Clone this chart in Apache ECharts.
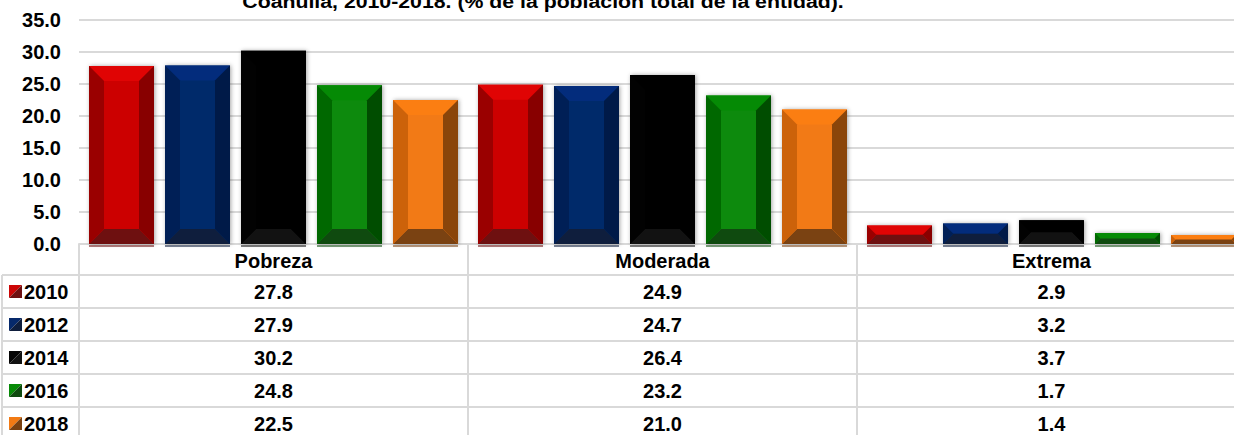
<!DOCTYPE html>
<html>
<head>
<meta charset="utf-8">
<script src="https://cdn.jsdelivr.net/npm/echarts@6/dist/echarts.min.js"></script>
<style>
html,body{margin:0;padding:0;background:#fff;}
#chart{width:1234px;height:435px;}
</style>
</head>
<body>
<div id="chart"></div>
<script>
//-------------------数据--------------
var categories = ['Pobreza', 'Moderada', 'Extrema'];
var years = ['2010', '2012', '2014', '2016', '2018'];
var v2010 = [27.8, 24.9, 2.9];
var v2012 = [27.9, 24.7, 3.2];
var v2014 = [30.2, 26.4, 3.7];
var v2016 = [24.8, 23.2, 1.7];
var v2018 = [22.5, 21.0, 1.4];
var yTicks = [0, 5, 10, 15, 20, 25, 30, 35];
var titleText = 'Coahuila, 2010-2018. (% de la población total de la entidad).';

//-------------------样式--------------
var FONT = '"Liberation Sans", Arial, sans-serif';
var FS = 20;
var LINE = '#d9d9d9';
// top, center, left, right, bottom
var bevel = [
  ['#e00404', '#cc0606', '#9a0000', '#880000', '#6e1010'],
  ['#032c7c', '#06296b', '#001f56', '#001a48', '#0f1e3d'],
  ['#000000', '#050505', '#020202', '#000000', '#121212'],
  ['#058a05', '#078a07', '#006800', '#004d00', '#0f4a0f'],
  ['#fb7e12', '#f27a14', '#cc620a', '#8a450a', '#7a4212']
];
var values = [v2010, v2012, v2014, v2016, v2018];

//-------------------处理逻辑------------------
function bevelRender(si) {
  return function (params, api) {
    var ci = api.value(0), val = api.value(1);
    var base = api.coord([ci, 0]), top = api.coord([ci, val]);
    var band = api.size([1, 0])[0];
    var bw = band * 65 / 389, gap = band * 11 / 389;
    var total = 5 * bw + 4 * gap;
    var x0 = base[0] - total / 2 + si * (bw + gap), x1 = x0 + bw;
    var y0 = top[1], y1 = base[1];
    var b = Math.min(15, (y1 - y0) / 2, bw / 2);
    var c = bevel[si];
    return {
      type: 'group',
      children: [
        {type: 'rect', shape: {x: x0, y: y0, width: bw, height: y1 - y0},
          style: {fill: c[1], shadowBlur: 4, shadowColor: 'rgba(0,0,0,0.35)', shadowOffsetX: 1, shadowOffsetY: 0}},
        {type: 'rect', shape: {x: x0, y: y1 + 1, width: bw, height: 2}, style: {fill: c[4], opacity: 0.55}},
        {type: 'polygon', shape: {points: [[x0, y0], [x1, y0], [x1 - b, y0 + b], [x0 + b, y0 + b]]}, style: {fill: c[0]}},
        {type: 'polygon', shape: {points: [[x0, y1], [x0 + b, y1 - b], [x1 - b, y1 - b], [x1, y1]]}, style: {fill: c[4]}},
        {type: 'polygon', shape: {points: [[x0, y0], [x0 + b, y0 + b], [x0 + b, y1 - b], [x0, y1]]}, style: {fill: c[2]}},
        {type: 'polygon', shape: {points: [[x1, y0], [x1, y1], [x1 - b, y1 - b], [x1 - b, y0 + b]]}, style: {fill: c[3]}}
      ]
    };
  };
}

var series = years.map(function (y, si) {
  return {
    name: y,
    type: 'custom',
    renderItem: bevelRender(si),
    encode: {x: 0, y: 1},
    data: values[si].map(function (v, i) { return [i, v]; })
  };
});

//-------------------配置--------------
var chart = echarts.init(document.getElementById('chart'), null, {renderer: 'svg'});
chart.setOption({
  animation: false,
  backgroundColor: '#fff',
  // la tercera columna sigue más allá del borde derecho
  grid: {left: 79, top: 20, width: 1167, height: 224, outerBoundsMode: 'none', containLabel: false},
  xAxis: {
    type: 'category',
    data: categories,
    axisLine: {show: true, lineStyle: {color: LINE, width: 2}},
    axisTick: {show: true, length: 191, interval: 0, lineStyle: {color: LINE, width: 2}},
    axisLabel: {margin: 7, color: '#000', fontWeight: 'bold', fontSize: FS, fontFamily: FONT}
  },
  yAxis: {
    type: 'value',
    min: yTicks[0],
    max: yTicks[yTicks.length - 1],
    interval: 5,
    axisLine: {show: false},
    axisTick: {show: false},
    splitLine: {lineStyle: {color: LINE, width: 2}},
    axisLabel: {
      margin: 18, color: '#000', fontWeight: 'bold', fontSize: FS, fontFamily: FONT,
      formatter: function (v) { return v.toFixed(1); }
    }
  },
  series: series
});

//-------------------表格--------------
var zeroY = chart.convertToPixel({yAxisIndex: 0}, 0);
var rowTop = zeroY + 31, rowH = 33;
var graphic = [];
// el título está recortado arriba, igual que en la imagen original
graphic.push({type: 'text', x: 543, y: 1, scaleX: 1.12,
  style: {text: titleText, fill: '#000', font: 'bold 19px ' + FONT, textAlign: 'center', textVerticalAlign: 'middle'}});
for (var k = 0; k < years.length; k++) {
  var ly = rowTop + k * rowH;
  graphic.push({type: 'line', shape: {x1: 2, y1: ly, x2: 1234, y2: ly}, style: {stroke: LINE, lineWidth: 2}});
  var cy = ly + rowH / 2;
  var c = bevel[k];
  graphic.push({type: 'polygon', shape: {points: [[9, cy - 6.5], [22, cy - 6.5], [9, cy + 6.5]]}, style: {fill: c[1]}});
  graphic.push({type: 'polygon', shape: {points: [[22, cy - 6.5], [22, cy + 6.5], [9, cy + 6.5]]}, style: {fill: c[4]}});
  graphic.push({type: 'text', x: 24, y: cy,
    style: {text: years[k], fill: '#000', font: 'bold ' + FS + 'px ' + FONT, textAlign: 'left', textVerticalAlign: 'middle'}});
  for (var i = 0; i < categories.length; i++) {
    var cx = chart.convertToPixel({xAxisIndex: 0}, i);
    graphic.push({type: 'text', x: cx, y: cy,
      style: {text: values[k][i].toFixed(1), fill: '#000', font: 'bold ' + FS + 'px ' + FONT, textAlign: 'center', textVerticalAlign: 'middle'}});
  }
}
graphic.push({type: 'line', shape: {x1: 2, y1: rowTop, x2: 2, y2: 435}, style: {stroke: LINE, lineWidth: 2}});
chart.setOption({graphic: graphic});
</script>
</body>
</html>
